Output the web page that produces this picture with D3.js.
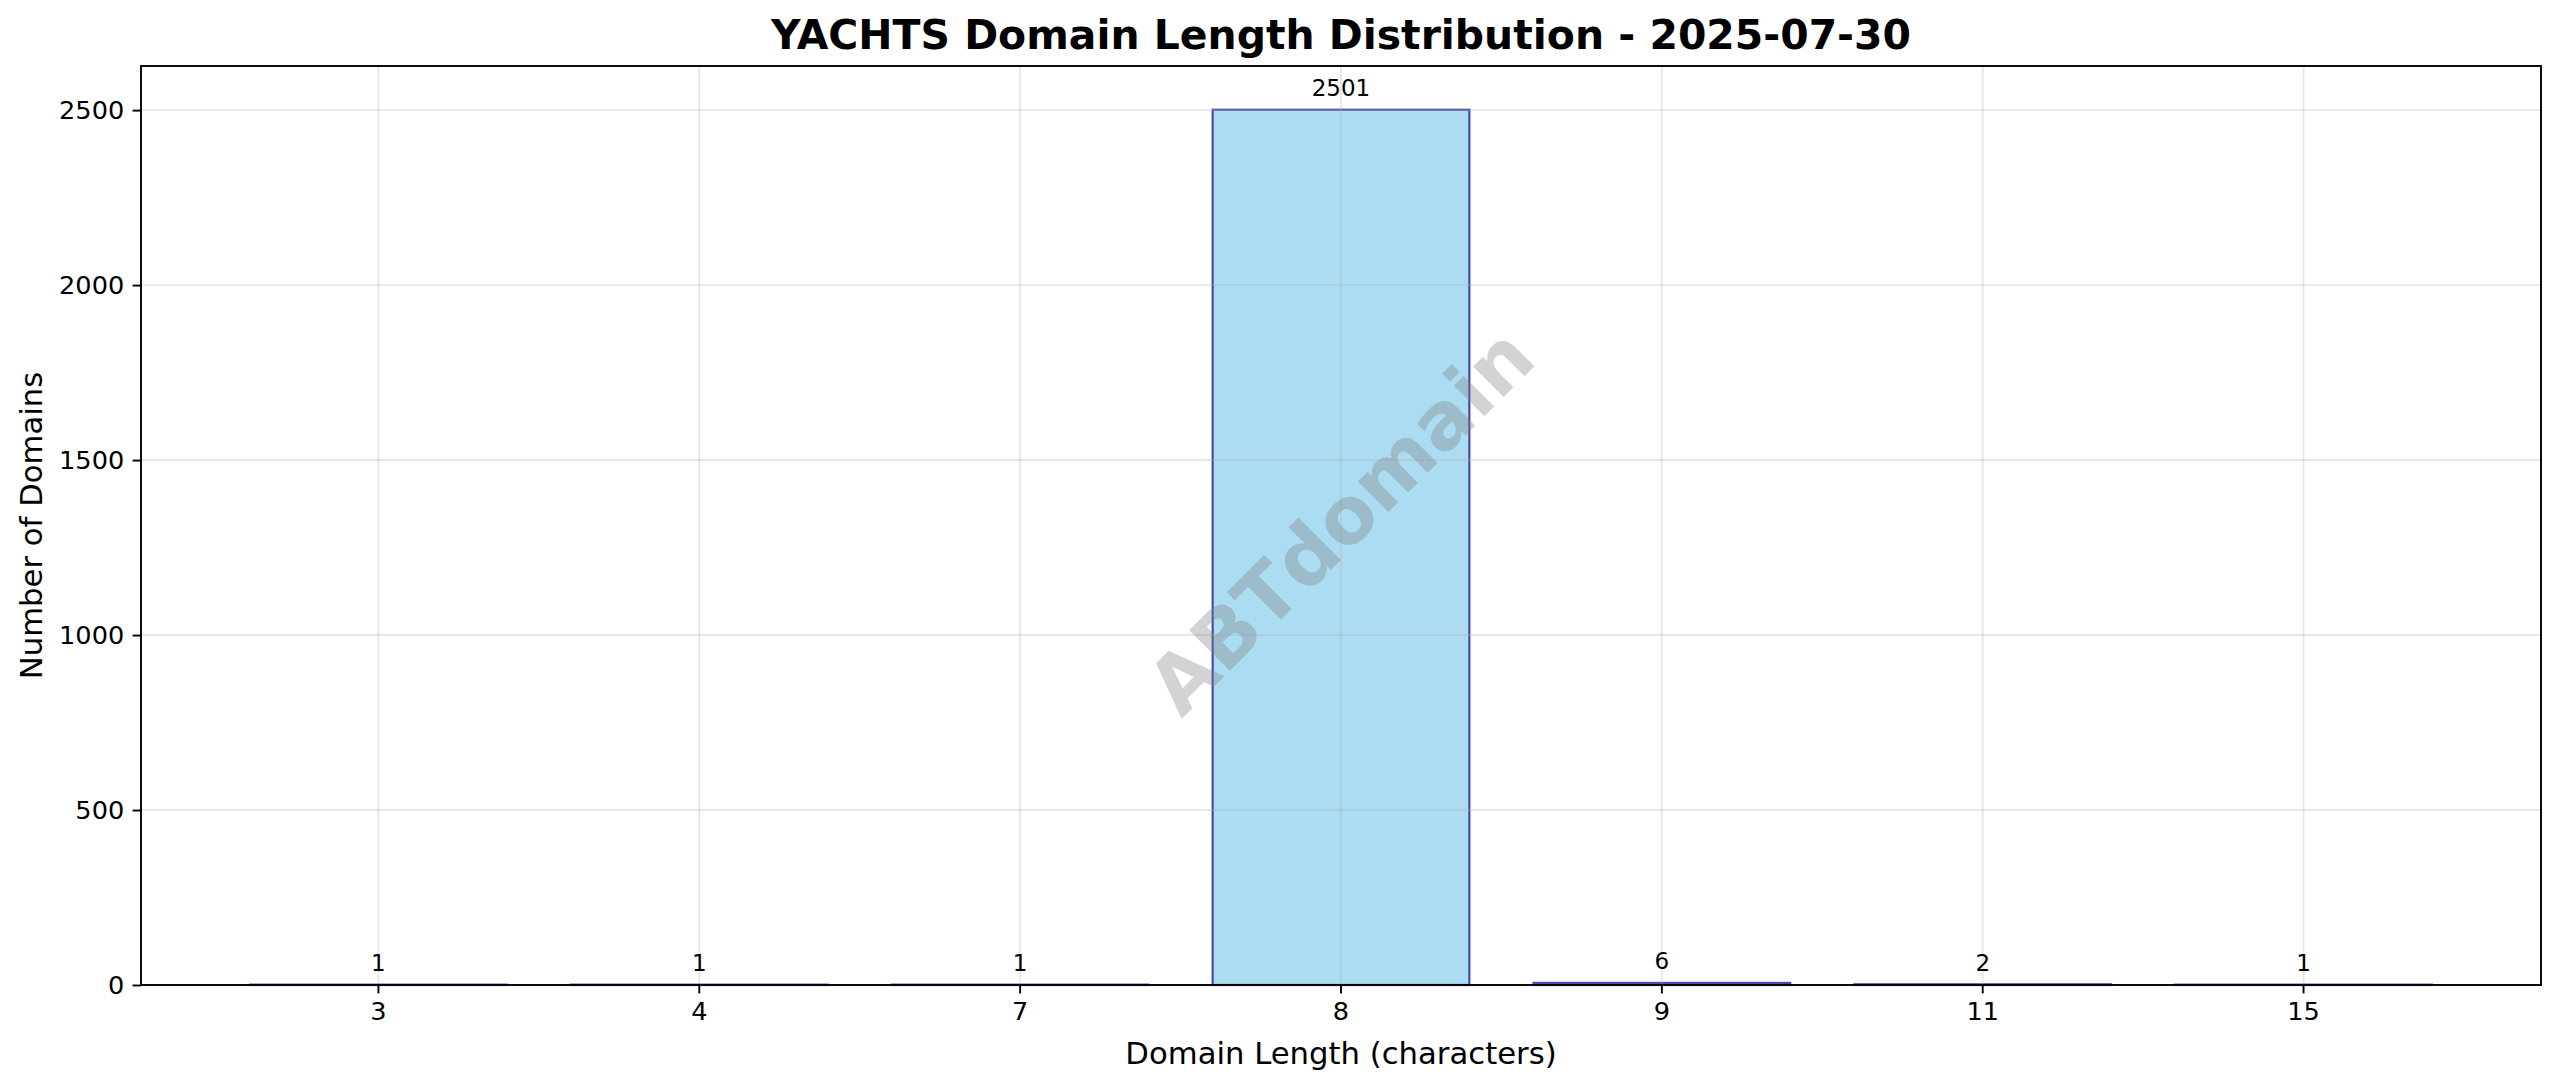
<!DOCTYPE html>
<html>
<head>
<meta charset="utf-8">
<script src="https://cdn.jsdelivr.net/npm/d3@7"></script>
<style>
  body { margin: 0; background: #fff; }
  text { font-family: "DejaVu Sans", sans-serif; }
</style>
</head>
<body>
<div class="canvas"></div>
<script>
// chart data
const lengths = ["3", "4", "7", "8", "9", "11", "15"];
const counts = [1, 1, 1, 2501, 6, 2, 1];
const yTicks = [0, 500, 1000, 1500, 2000, 2500];
const titleText = "YACHTS Domain Length Distribution - 2025-07-30";
const xLabelText = "Domain Length (characters)";
const yLabelText = "Number of Domains";
const watermarkText = "ABTdomain";

const data = lengths.map((l, i) => ({ length: l, count: counts[i] }));

const w = 2560;
const h = 1088;
const margin = { top: 66, right: 19, bottom: 103, left: 141 };
const graphWidth = w - margin.left - margin.right;
const graphHeight = h - margin.top - margin.bottom;

const svg = d3
  .select(".canvas")
  .append("svg")
  .attr("width", w)
  .attr("height", h)
  .style("display", "block");

svg.append("rect").attr("width", w).attr("height", h).attr("fill", "#fff");

const graph = svg
  .append("g")
  .attr("transform", `translate(${margin.left}, ${margin.top})`);

// scales
const x = d3
  .scaleBand()
  .domain(lengths)
  .range([0, graphWidth])
  .paddingInner(0.2)
  .paddingOuter(0.34);

const y = d3
  .scaleLinear()
  .domain([0, d3.max(counts) * 1.05])
  .range([graphHeight, 0]);

// bars
graph
  .selectAll("rect.bar")
  .data(data)
  .enter()
  .append("rect")
  .attr("class", "bar")
  .attr("x", d => x(d.length))
  .attr("width", x.bandwidth())
  .attr("y", d => y(d.count))
  .attr("height", d => graphHeight - y(d.count))
  .attr("fill", "rgb(171,220,241)")
  .attr("stroke", "rgb(72,76,170)")
  .attr("stroke-width", 2.2);

// grid lines (drawn over bars like matplotlib)
const grid = graph.append("g").attr("stroke", "#b0b0b0").attr("stroke-opacity", 0.3).attr("stroke-width", 1.9);
grid
  .selectAll("line.gx")
  .data(lengths)
  .enter()
  .append("line")
  .attr("x1", d => x(d) + x.bandwidth() / 2)
  .attr("x2", d => x(d) + x.bandwidth() / 2)
  .attr("y1", 0)
  .attr("y2", graphHeight);
grid
  .selectAll("line.gy")
  .data(yTicks)
  .enter()
  .append("line")
  .attr("x1", 0)
  .attr("x2", graphWidth)
  .attr("y1", d => y(d))
  .attr("y2", d => y(d));

// watermark
graph
  .append("text")
  .attr("transform", `translate(${graphWidth / 2}, ${graphHeight / 2 - 4}) rotate(-45)`)
  .attr("text-anchor", "middle")
  .attr("dominant-baseline", "central")
  .attr("font-size", 79)
  .attr("font-weight", "bold")
  .attr("fill", "#808080")
  .attr("fill-opacity", 0.35)
  .text(watermarkText);

// value labels
graph
  .selectAll("text.val")
  .data(data)
  .enter()
  .append("text")
  .attr("class", "val")
  .attr("x", d => x(d.length) + x.bandwidth() / 2)
  .attr("y", d => y(d.count) - 13.5)
  .attr("text-anchor", "middle")
  .attr("font-size", 23)
  .attr("fill", "#000")
  .text(d => d.count);

// axes
const xAxis = d3.axisBottom(x).tickSizeInner(8.4).tickSizeOuter(0).tickPadding(8.4);
const yAxis = d3
  .axisLeft(y)
  .tickValues(yTicks)
  .tickFormat(d3.format("d"))
  .tickSizeInner(8.4)
  .tickSizeOuter(0)
  .tickPadding(8.4);

const xAxisGroup = graph
  .append("g")
  .attr("transform", `translate(0, ${graphHeight})`)
  .call(xAxis);
const yAxisGroup = graph.append("g").call(yAxis);

[xAxisGroup, yAxisGroup].forEach(g => {
  g.select(".domain").remove();
  g.selectAll(".tick line").attr("stroke", "#000").attr("stroke-width", 1.9);
  g.selectAll(".tick text")
    .attr("font-size", 25.6)
    .attr("fill", "#000")
    .style("font-family", "'DejaVu Sans', sans-serif");
});

// spines
graph
  .append("rect")
  .attr("width", graphWidth)
  .attr("height", graphHeight)
  .attr("fill", "none")
  .attr("stroke", "#000")
  .attr("stroke-width", 1.9);

// title and axis labels
svg
  .append("text")
  .attr("x", margin.left + graphWidth / 2)
  .attr("y", 49)
  .attr("text-anchor", "middle")
  .attr("font-size", 40.9)
  .attr("font-weight", "bold")
  .text(titleText);

svg
  .append("text")
  .attr("x", margin.left + graphWidth / 2)
  .attr("y", 1064)
  .attr("text-anchor", "middle")
  .attr("font-size", 30.7)
  .text(xLabelText);

svg
  .append("text")
  .attr("transform", `translate(42, ${margin.top + graphHeight / 2}) rotate(-90)`)
  .attr("text-anchor", "middle")
  .attr("font-size", 30.7)
  .text(yLabelText);
</script>
</body>
</html>
